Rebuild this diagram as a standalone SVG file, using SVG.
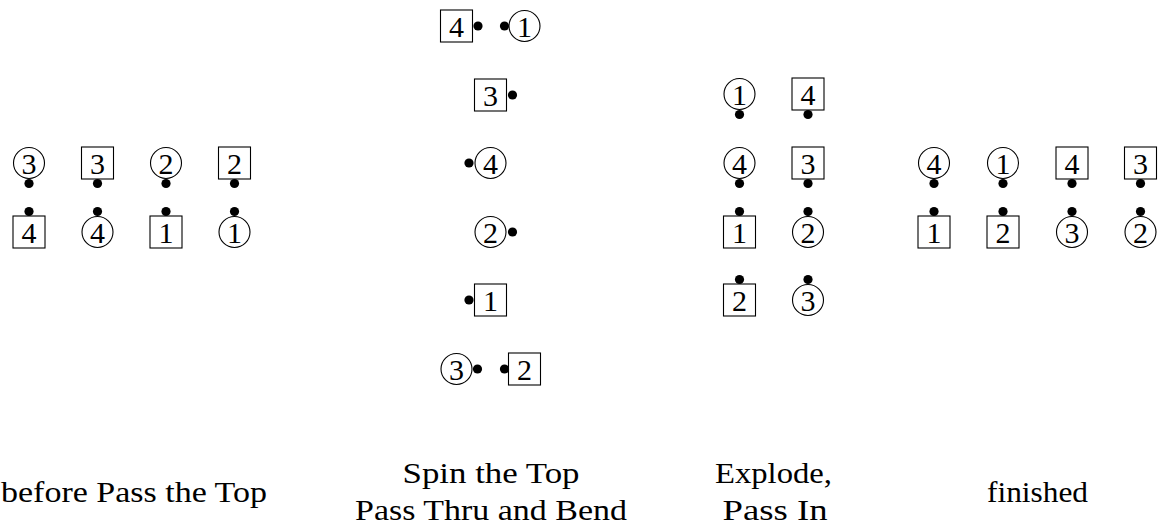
<svg xmlns="http://www.w3.org/2000/svg" width="1165" height="528" viewBox="0 0 1165 528">
<style>
  .sq { fill: #fff; stroke: #000; stroke-width: 1.1; }
  .ci { fill: #fff; stroke: #000; stroke-width: 1.1; }
  .dot { fill: #000; }
  .num { font-family: "Liberation Serif", "Times New Roman", serif; font-size: 30px; text-anchor: middle; fill: #000; }
  .lbl { font-family: "Liberation Serif", "Times New Roman", serif; font-size: 30px; text-anchor: middle; fill: #000; }
</style>
<defs>
  <rect id="S" class="sq" x="-16" y="-16" width="32" height="32"/>
  <circle id="C" class="ci" r="15.5"/>
  <circle id="D" class="dot" r="4.6"/>
</defs>

<!-- Panel 1: before Pass the Top -->
<g id="p1">
  <g id="p1-c3" transform="translate(29,163)"><use href="#C"/><use href="#D" y="20.5"/><text class="num" y="10.5">3</text></g>
  <g id="p1-s3" transform="translate(97.5,163)"><use href="#S"/><use href="#D" y="20.5"/><text class="num" y="10.5">3</text></g>
  <g id="p1-c2" transform="translate(166,163)"><use href="#C"/><use href="#D" y="20.5"/><text class="num" y="10.5">2</text></g>
  <g id="p1-s2" transform="translate(234.5,163)"><use href="#S"/><use href="#D" y="20.5"/><text class="num" y="10.5">2</text></g>
  <g id="p1-s4" transform="translate(29,232)"><use href="#S"/><use href="#D" y="-20.5"/><text class="num" y="10.5">4</text></g>
  <g id="p1-c4" transform="translate(97.5,232)"><use href="#C"/><use href="#D" y="-20.5"/><text class="num" y="10.5">4</text></g>
  <g id="p1-s1" transform="translate(166,232)"><use href="#S"/><use href="#D" y="-20.5"/><text class="num" y="10.5">1</text></g>
  <g id="p1-c1" transform="translate(234.5,232)"><use href="#C"/><use href="#D" y="-20.5"/><text class="num" y="10.5">1</text></g>
</g>

<!-- Panel 2: Spin the Top / Pass Thru and Bend -->
<g id="p2">
  <g id="p2-s4" transform="translate(456.5,26)"><use href="#S"/><use href="#D" x="21.5"/><text class="num" y="10.5">4</text></g>
  <g id="p2-c1" transform="translate(524.5,26)"><use href="#C"/><use href="#D" x="-20"/><text class="num" y="10.5">1</text></g>
  <g id="p2-s3" transform="translate(490.5,95)"><use href="#S"/><use href="#D" x="22"/><text class="num" y="10.5">3</text></g>
  <g id="p2-c4" transform="translate(490.5,163)"><use href="#C"/><use href="#D" x="-21.5"/><text class="num" y="10.5">4</text></g>
  <g id="p2-c2" transform="translate(490.5,232)"><use href="#C"/><use href="#D" x="22"/><text class="num" y="10.5">2</text></g>
  <g id="p2-s1" transform="translate(490.5,300)"><use href="#S"/><use href="#D" x="-21.5"/><text class="num" y="10.5">1</text></g>
  <g id="p2-c3" transform="translate(456.5,369)"><use href="#C"/><use href="#D" x="21"/><text class="num" y="10.5">3</text></g>
  <g id="p2-s2" transform="translate(524.5,369)"><use href="#S"/><use href="#D" x="-20"/><text class="num" y="10.5">2</text></g>
</g>

<!-- Panel 3: Explode, Pass In -->
<g id="p3">
  <g id="p3-c1" transform="translate(739.5,94)"><use href="#C"/><use href="#D" y="20.5"/><text class="num" y="10.5">1</text></g>
  <g id="p3-s4" transform="translate(808,94)"><use href="#S"/><use href="#D" y="20.5"/><text class="num" y="10.5">4</text></g>
  <g id="p3-c4" transform="translate(739.5,163)"><use href="#C"/><use href="#D" y="20.5"/><text class="num" y="10.5">4</text></g>
  <g id="p3-s3" transform="translate(808,163)"><use href="#S"/><use href="#D" y="20.5"/><text class="num" y="10.5">3</text></g>
  <g id="p3-s1" transform="translate(739.5,232)"><use href="#S"/><use href="#D" y="-20.5"/><text class="num" y="10.5">1</text></g>
  <g id="p3-c2" transform="translate(808,232)"><use href="#C"/><use href="#D" y="-20.5"/><text class="num" y="10.5">2</text></g>
  <g id="p3-s2" transform="translate(739.5,300)"><use href="#S"/><use href="#D" y="-20.5"/><text class="num" y="10.5">2</text></g>
  <g id="p3-c3" transform="translate(808,300)"><use href="#C"/><use href="#D" y="-20.5"/><text class="num" y="10.5">3</text></g>
</g>

<!-- Panel 4: finished -->
<g id="p4">
  <g id="p4-c4" transform="translate(934,163)"><use href="#C"/><use href="#D" y="20.5"/><text class="num" y="10.5">4</text></g>
  <g id="p4-c1" transform="translate(1003,163)"><use href="#C"/><use href="#D" y="20.5"/><text class="num" y="10.5">1</text></g>
  <g id="p4-s4" transform="translate(1072,163)"><use href="#S"/><use href="#D" y="20.5"/><text class="num" y="10.5">4</text></g>
  <g id="p4-s3" transform="translate(1140.5,163)"><use href="#S"/><use href="#D" y="20.5"/><text class="num" y="10.5">3</text></g>
  <g id="p4-s1" transform="translate(934,232)"><use href="#S"/><use href="#D" y="-20.5"/><text class="num" y="10.5">1</text></g>
  <g id="p4-s2" transform="translate(1003,232)"><use href="#S"/><use href="#D" y="-20.5"/><text class="num" y="10.5">2</text></g>
  <g id="p4-c3" transform="translate(1072,232)"><use href="#C"/><use href="#D" y="-20.5"/><text class="num" y="10.5">3</text></g>
  <g id="p4-c2" transform="translate(1140.5,232)"><use href="#C"/><use href="#D" y="-20.5"/><text class="num" y="10.5">2</text></g>
</g>

<g id="connectors"></g>

<g id="labels">
  <text class="lbl" x="134" y="501.5" textLength="266" lengthAdjust="spacingAndGlyphs">before Pass the Top</text>
  <text class="lbl" x="491" y="483" textLength="177" lengthAdjust="spacingAndGlyphs">Spin the Top</text>
  <text class="lbl" x="491" y="519.5" textLength="272" lengthAdjust="spacingAndGlyphs">Pass Thru and Bend</text>
  <text class="lbl" x="773.5" y="483" textLength="117" lengthAdjust="spacingAndGlyphs">Explode,</text>
  <text class="lbl" x="775" y="519.5" textLength="105" lengthAdjust="spacingAndGlyphs">Pass In</text>
  <text class="lbl" x="1037.5" y="501.5" textLength="101" lengthAdjust="spacingAndGlyphs">finished</text>
</g>
</svg>
